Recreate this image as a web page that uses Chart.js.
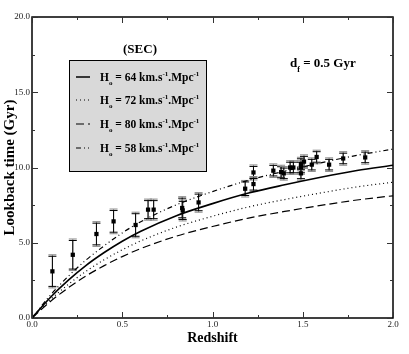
<!DOCTYPE html>
<html><head><meta charset="utf-8">
<script src="https://cdn.jsdelivr.net/npm/chart.js@4/dist/chart.umd.min.js"></script>
<style>html,body{margin:0;padding:0;background:#fff;}canvas{display:block;}</style>
</head><body>
<canvas id="c" width="409" height="354"></canvas>
<script>
// ---- data ----
const curveZ   = [0, 0.1, 0.2, 0.3, 0.4, 0.5, 0.6, 0.8, 1.0, 1.2, 1.4, 1.6, 1.8, 2.0];
const curveH64 = [0, 1.35, 2.5, 3.5, 4.35, 5.1, 5.75, 6.8, 7.6, 8.3, 8.85, 9.35, 9.8, 10.15];
const curveH72 = [0, 1.2, 2.22, 3.11, 3.87, 4.53, 5.11, 6.04, 6.76, 7.38, 7.87, 8.31, 8.71, 9.02];
const curveH80 = [0, 1.08, 2.0, 2.8, 3.48, 4.08, 4.6, 5.44, 6.08, 6.64, 7.08, 7.48, 7.84, 8.12];
const curveH58 = [0, 1.49, 2.76, 3.86, 4.8, 5.65, 6.38, 7.52, 8.4, 9.15, 9.76, 10.31, 10.81, 11.22];
const obsZ   = [0.113, 0.226, 0.357, 0.452, 0.574, 0.643, 0.674, 0.832, 0.835, 0.923, 1.181, 1.227, 1.227, 1.337, 1.38, 1.395, 1.43, 1.448, 1.49, 1.49, 1.49, 1.507, 1.55, 1.577, 1.646, 1.724, 1.846];
const obsAge = [3.1, 4.2, 5.58, 6.42, 6.18, 7.2, 7.2, 7.31, 7.15, 7.68, 8.59, 9.67, 8.9, 9.79, 9.7, 9.61, 10.0, 10.0, 10.23, 9.61, 10.0, 10.39, 10.19, 10.70, 10.19, 10.6, 10.67];
const obsErr = [1.0, 0.95, 0.72, 0.72, 0.75, 0.6, 0.6, 0.65, 0.6, 0.55, 0.45, 0.4, 0.4, 0.35, 0.35, 0.35, 0.35, 0.35, 0.35, 0.35, 0.35, 0.35, 0.35, 0.35, 0.35, 0.35, 0.35];
const xTickLabels = ["0.0", "0.5", "1.0", "1.5", "2.0"];
const yTickLabels = ["0.0", "5.0", "10.0", "15.0", "20.0"];
const legendH0 = ["64", "72", "80", "58"];

const pts = (xs, ys) => xs.map((x, i) => ({x: x, y: ys[i]}));
const SERIF = '"Liberation Serif", "DejaVu Serif", serif';
const dashes = [[], [1, 3], [8, 4], [5, 3, 1, 3, 1, 3]];

function lineDS(data, dash, w) {
  return {type: 'line', data: data, borderColor: '#000', borderWidth: w, borderDash: dash,
    pointRadius: 0, tension: 0.4, cubicInterpolationMode: 'monotone', fill: false};
}

const errPlugin = {
  id: 'err',
  beforeDatasetsDraw(chart) {
    const ctx = chart.ctx, xs = chart.scales.x, ys = chart.scales.y;
    ctx.save();
    obsZ.forEach((z, i) => {
      const px = xs.getPixelForValue(z);
      [['#888', obsErr[i] + 0.1, 1], ['#000', obsErr[i], 1]].forEach(([col, e, lw]) => {
        const t = ys.getPixelForValue(obsAge[i] + e), b = ys.getPixelForValue(obsAge[i] - e);
        ctx.strokeStyle = col; ctx.lineWidth = lw;
        ctx.beginPath();
        ctx.moveTo(px, t); ctx.lineTo(px, b);
        ctx.moveTo(px - 4, t); ctx.lineTo(px + 4, t);
        ctx.moveTo(px - 4, b); ctx.lineTo(px + 4, b);
        ctx.stroke();
      });
    });
    ctx.restore();
  }
};

function drawRich(ctx, parts, x, y, size) {
  let cx = x;
  parts.forEach(([t, m]) => {
    const s = m === 'n' ? size : Math.round(size * 0.62);
    ctx.font = 'bold ' + s + 'px ' + SERIF;
    const dy = m === 'sub' ? size * 0.35 : (m === 'sup' ? -size * 0.42 : 0);
    ctx.fillText(t, cx, y + dy);
    cx += ctx.measureText(t).width;
  });
  return cx;
}

const decoPlugin = {
  id: 'deco',
  afterDraw(chart) {
    const ctx = chart.ctx, a = chart.chartArea, xs = chart.scales.x, ys = chart.scales.y;
    ctx.save();
    ctx.strokeStyle = '#000'; ctx.lineWidth = 1.5;
    ctx.strokeRect(a.left, a.top, a.right - a.left, a.bottom - a.top);
    ctx.lineWidth = 1;
    ctx.strokeStyle = '#333';
    ctx.beginPath();
    for (let v = 0; v <= 2.0001; v += 0.25) {
      const p = Math.round(xs.getPixelForValue(v)) + 0.5;
      const L = (Math.abs(v / 0.5 - Math.round(v / 0.5)) < 1e-6) ? 6 : 3;
      ctx.moveTo(p, a.bottom); ctx.lineTo(p, a.bottom - L);
      ctx.moveTo(p, a.top); ctx.lineTo(p, a.top + L);
    }
    for (let v = 0; v <= 20.0001; v += 2.5) {
      const p = Math.round(ys.getPixelForValue(v)) + 0.5;
      const L = (Math.abs(v / 5 - Math.round(v / 5)) < 1e-6) ? 6 : 3;
      ctx.moveTo(a.left, p); ctx.lineTo(a.left + L, p);
      ctx.moveTo(a.right, p); ctx.lineTo(a.right - L, p);
    }
    ctx.stroke();
    ctx.fillStyle = '#222';
    ctx.font = '9px ' + SERIF;
    ctx.textAlign = 'center'; ctx.textBaseline = 'top';
    xTickLabels.forEach((t, i) => ctx.fillText(t, xs.getPixelForValue(i * 0.5), a.bottom + 2));
    ctx.textAlign = 'right'; ctx.textBaseline = 'middle';
    yTickLabels.forEach((t, i) => ctx.fillText(t, a.left - 2, ys.getPixelForValue(i * 5)));
    ctx.fillStyle = '#000';
    ctx.font = 'bold 14px ' + SERIF;
    ctx.textAlign = 'center'; ctx.textBaseline = 'middle';
    ctx.fillText('Redshift', (a.left + a.right) / 2, 338);
    ctx.save();
    ctx.translate(10, (a.top + a.bottom) / 2);
    ctx.rotate(-Math.PI / 2);
    ctx.font = 'bold 15px ' + SERIF;
    ctx.fillText('Lookback time (Gyr)', 0, 0);
    ctx.restore();
    ctx.font = 'bold 13px ' + SERIF;
    ctx.fillText('(SEC)', 140, 50);
    ctx.textAlign = 'left'; ctx.textBaseline = 'alphabetic';
    drawRich(ctx, [['d', 'n'], ['f', 'sub'], [' = 0.5 Gyr', 'n']], 290, 67, 13);
    ctx.fillStyle = '#d9d9d9';
    ctx.fillRect(69, 60, 138, 112);
    ctx.strokeStyle = '#000'; ctx.lineWidth = 1;
    ctx.strokeRect(69.5, 60.5, 137, 111);
    const rows = [77, 100, 124, 148];
    rows.forEach((ry, i) => {
      ctx.strokeStyle = '#000'; ctx.lineWidth = i === 0 ? 1.5 : 1.2;
      ctx.setLineDash(dashes[i]);
      ctx.beginPath(); ctx.moveTo(76, ry); ctx.lineTo(90, ry); ctx.stroke();
      ctx.setLineDash([]);
      ctx.fillStyle = '#000';
      drawRich(ctx, [['H', 'n'], ['o', 'sub'], [' = ' + legendH0[i] + ' km.s', 'n'], ['-1', 'sup'], ['.Mpc', 'n'], ['-1', 'sup']], 100, ry + 4, 11.5);
    });
    ctx.restore();
  }
};

new Chart(document.getElementById('c'), {
  type: 'scatter',
  data: {
    datasets: [
      lineDS(pts(curveZ, curveH64), dashes[0], 1.6),
      lineDS(pts(curveZ, curveH72), dashes[1], 1.2),
      lineDS(pts(curveZ, curveH80), dashes[2], 1.2),
      lineDS(pts(curveZ, curveH58), dashes[3], 1.2),
      {type: 'scatter', data: pts(obsZ, obsAge), pointStyle: 'rect', pointRadius: 3,
        backgroundColor: '#000', borderColor: '#000', borderWidth: 0}
    ]
  },
  options: {
    responsive: false, animation: false, devicePixelRatio: 1,
    layout: {padding: {left: 0, right: 16, top: 17, bottom: 0}},
    plugins: {legend: {display: false}, tooltip: {enabled: false}},
    scales: {
      x: {type: 'linear', min: 0, max: 2, grid: {display: false}, border: {display: false},
        ticks: {display: false}, afterFit(s) { s.height = 36; }},
      y: {type: 'linear', min: 0, max: 20, grid: {display: false}, border: {display: false},
        ticks: {display: false}, afterFit(s) { s.width = 32; }}
    }
  },
  plugins: [errPlugin, decoPlugin]
});
</script>
</body></html>
